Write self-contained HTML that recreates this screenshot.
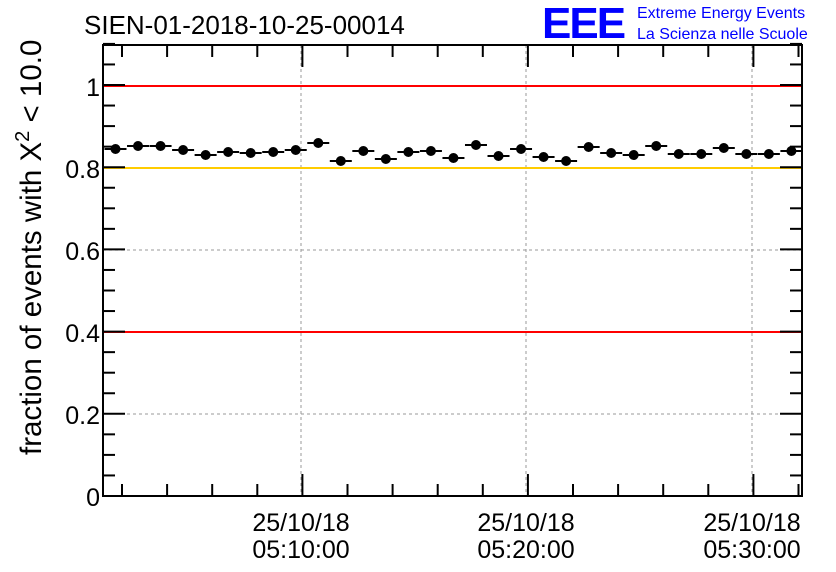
<!DOCTYPE html>
<html><head><meta charset="utf-8"><style>body{margin:0;background:#fff}svg{display:block}</style></head><body>
<svg width="836" height="572" xmlns="http://www.w3.org/2000/svg" font-family="Liberation Sans, sans-serif">
<rect width="836" height="572" fill="#fff"/>
<g stroke="#999" stroke-dasharray="3,3" stroke-width="1">
<line x1="301" y1="45" x2="301" y2="496"/><line x1="526" y1="45" x2="526" y2="496"/><line x1="752" y1="45" x2="752" y2="496"/>
<line x1="103" y1="414" x2="802" y2="414"/><line x1="103" y1="250" x2="802" y2="250"/>
</g>
<line x1="103" y1="86" x2="802" y2="86" stroke="#f00" stroke-width="2"/>
<line x1="103" y1="332" x2="802" y2="332" stroke="#f00" stroke-width="2"/>
<line x1="103" y1="168" x2="802" y2="168" stroke="#fc0" stroke-width="2"/>
<g id="pts" stroke="#000" stroke-width="2" fill="#000"></g>
<rect x="103" y="45" width="699" height="451" fill="none" stroke="#000" stroke-width="2"/>
<g id="ticks" stroke="#000" stroke-width="2"></g>
<g font-size="25" text-anchor="end">
<text x="100" y="506">0</text><text x="100" y="424">0.2</text><text x="100" y="342">0.4</text><text x="100" y="260">0.6</text><text x="100" y="178">0.8</text><text x="100" y="96">1</text>
</g>
<g font-size="25" text-anchor="middle">
<text x="301" y="531">25/10/18</text><text x="301" y="558">05:10:00</text>
<text x="526" y="531">25/10/18</text><text x="526" y="558">05:20:00</text>
<text x="752" y="531">25/10/18</text><text x="752" y="558">05:30:00</text>
</g>
<text x="84" y="34" font-size="26">SIEN-01-2018-10-25-00014</text>
<text transform="translate(41,455) rotate(-90)" font-size="29.5">fraction of events with X<tspan dy="-12" font-size="20">2</tspan><tspan dy="12"> &lt; 10.0</tspan></text>
<text x="542" y="38" font-size="44" fill="#00f" font-weight="bold" letter-spacing="-2">EEE</text>
<text x="637" y="18" font-size="16" fill="#00f">Extreme Energy Events</text>
<text x="637" y="39" font-size="16" fill="#00f">La Scienza nelle Scuole</text>
</svg>
<script>
var ys=[149,146,146,150,155,152,153,152,150,143,161,151,159,152,151,158,145,156,149,157,161,147,153,155,146,154,154,148,154,154,151];
var g=document.getElementById('pts'),s='';
ys.forEach(function(y,i){var x=115.5+22.53*i;
s+='<line x1="'+(x-11)+'" y1="'+y+'" x2="'+(x+11)+'" y2="'+y+'"/><line x1="'+x+'" y1="'+(y-4)+'" x2="'+x+'" y2="'+(y+4)+'"/><circle cx="'+x+'" cy="'+y+'" r="4"/>';});
g.innerHTML=s;
var t=document.getElementById('ticks'),u='';
for(var x=122;x<802;x+=45.1){var maj=Math.abs(x-301)<5||Math.abs(x-526)<5||Math.abs(x-752)<5;var h=maj?22:12;
u+='<line x1="'+x+'" y1="496" x2="'+x+'" y2="'+(496-h)+'"/><line x1="'+x+'" y1="45" x2="'+x+'" y2="'+(45+h)+'"/>';}
for(var i=0;i<=22;i++){var y=496-i*20.55;var h=(i%4==0)?22:12;
u+='<line x1="103" y1="'+y+'" x2="'+(103+h)+'" y2="'+y+'"/><line x1="802" y1="'+y+'" x2="'+(802-h)+'" y2="'+y+'"/>';}
t.innerHTML=u;
</script>
</body></html>
